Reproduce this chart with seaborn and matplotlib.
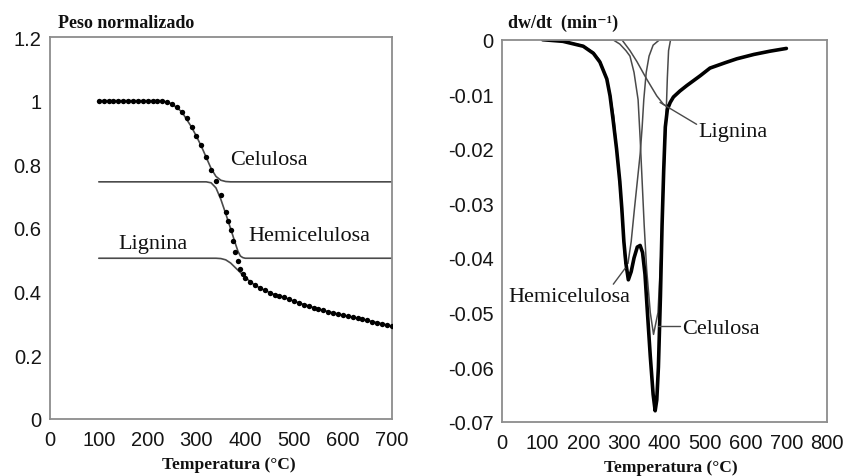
import matplotlib
matplotlib.use("Agg")
import matplotlib.pyplot as plt
from matplotlib.ticker import FixedLocator, MultipleLocator
import seaborn as sns

# ---------------- data: left panel (TG) ----------------
tg_T = [100, 110, 120, 130, 140, 150, 160, 170, 180, 190, 200, 210, 220, 230, 240, 250,
        260, 270, 280, 290, 300, 310, 320, 330, 340, 350, 360, 365, 370, 375, 380, 385,
        390, 395, 400, 410, 420, 430, 440, 450, 460, 470, 480, 490, 500, 510, 520, 530,
        540, 550, 560, 570, 580, 590, 600, 610, 620, 630, 640, 650, 660, 670, 680, 690, 700]
tg_total = [1.0, 1.0, 1.0, 1.0, 1.0, 1.0, 1.0, 1.0, 1.0, 1.0, 1.0, 1.0, 0.999, 0.998, 0.995, 0.99,
            0.98, 0.965, 0.945, 0.917, 0.888, 0.86, 0.822, 0.782, 0.748, 0.703, 0.650, 0.622, 0.595, 0.56, 0.525, 0.495,
            0.472, 0.456, 0.444, 0.430, 0.420, 0.412, 0.404, 0.397, 0.391, 0.386, 0.382, 0.376, 0.370, 0.364, 0.359, 0.355,
            0.350, 0.345, 0.341, 0.337, 0.333, 0.329, 0.326, 0.322, 0.319, 0.316, 0.313, 0.310, 0.306, 0.303, 0.299, 0.295, 0.292]

tg_cel_T = [100, 230, 250, 270, 290, 300, 310, 320, 330, 340, 350, 360, 370, 700]
tg_cel = [1.0, 1.0, 0.99, 0.965, 0.917, 0.888, 0.857, 0.822, 0.787, 0.762, 0.750, 0.746, 0.745, 0.745]

tg_hem_T = [100, 320, 330, 340, 350, 360, 370, 380, 385, 390, 395, 400, 700]
tg_hem = [0.745, 0.745, 0.742, 0.726, 0.690, 0.645, 0.598, 0.550, 0.527, 0.512, 0.507, 0.505, 0.505]

tg_lig_T = [100, 340, 350, 360, 370, 380, 390, 400, 410, 420, 440, 460, 480, 500, 550, 600, 650, 700]
tg_lig = [0.505, 0.505, 0.504, 0.500, 0.490, 0.475, 0.460, 0.445, 0.432, 0.420, 0.404, 0.391, 0.382, 0.370, 0.345, 0.326, 0.310, 0.292]

# ---------------- data: right panel (DTG) ----------------
dtg_T = [100, 150, 200, 225, 241, 258, 266, 274, 282, 290, 295, 300, 305, 311, 318, 325, 333, 340,
         346, 352, 358, 365, 372, 377, 381, 385, 390, 394, 398, 402, 407, 414, 422, 438, 455, 488,
         512, 550, 578, 620, 660, 700]
dtg_total = [0.0, -0.0003, -0.0012, -0.0025, -0.0041, -0.0072, -0.0103, -0.015, -0.020, -0.026, -0.031, -0.037, -0.041, -0.044, -0.0425, -0.040, -0.038, -0.0377,
             -0.039, -0.043, -0.050, -0.058, -0.065, -0.068, -0.066, -0.060, -0.047, -0.034, -0.024, -0.016, -0.0128, -0.0115, -0.0105, -0.0094, -0.0084, -0.0066,
             -0.0052, -0.0042, -0.0035, -0.0027, -0.0021, -0.0016]

dtg_hem_T = [100, 150, 200, 225, 240, 255, 265, 275, 285, 295, 303, 310, 318, 326, 333, 340, 345, 349, 355, 362, 372, 388, 700]
dtg_hem = [0.0, -0.0002, -0.0011, -0.0023, -0.0037, -0.0065, -0.0095, -0.014, -0.022, -0.032, -0.041, -0.041, -0.037, -0.031, -0.026, -0.021, -0.016, -0.011, -0.006, -0.003, -0.001, 0.0, 0.0]

dtg_cel_T = [100, 273, 290, 305, 315, 325, 335, 340, 345, 350, 356, 365, 373, 384, 392, 398, 403, 407, 410, 415, 700]
dtg_cel = [0.0, 0.0, -0.0008, -0.002, -0.003, -0.006, -0.011, -0.018, -0.026, -0.034, -0.042, -0.050, -0.054, -0.050, -0.038, -0.026, -0.016, -0.007, -0.002, 0.0, 0.0]

dtg_lig_T = [100, 295, 315, 332, 356, 381, 397, 405, 414, 422, 438, 455, 488, 512, 550, 578, 620, 660, 700]
dtg_lig = [0.0, 0.0, -0.002, -0.004, -0.0072, -0.0103, -0.0118, -0.0122, -0.0115, -0.0106, -0.0094, -0.0084, -0.0066, -0.0052, -0.0042, -0.0035, -0.0027, -0.0021, -0.0016]

# tick labels
left_yticks = [0, 0.2, 0.4, 0.6, 0.8, 1.0, 1.2]
left_ylabels = ["0", "0.2", "0.4", "0.6", "0.8", "1", "1.2"]
left_xticks = [0, 100, 200, 300, 400, 500, 600, 700]
right_yticks = [0, -0.01, -0.02, -0.03, -0.04, -0.05, -0.06, -0.07]
right_ylabels = ["0", "-0.01", "-0.02", "-0.03", "-0.04", "-0.05", "-0.06", "-0.07"]
right_xticks = [0, 100, 200, 300, 400, 500, 600, 700, 800]

# ---------------- styling ----------------
sns.set_style("white")
plt.rcParams["font.family"] = ["Liberation Sans", "DejaVu Sans"]

SERIF = ["Liberation Serif", "DejaVu Serif"]
SPINE = "#8c8c8c"
THIN = "#4a4a4a"
TXT = "#111111"

fig = plt.figure(figsize=(8.45, 4.77), dpi=100)
ax1 = fig.add_axes([50 / 845, 57 / 477, 341.7 / 845, 382 / 477])
ax2 = fig.add_axes([502 / 845, 54.3 / 477, 325 / 845, 382 / 477])


def style_axes(ax):
    for s in ax.spines.values():
        s.set_visible(True)
        s.set_color(SPINE)
        s.set_linewidth(1.3)
    ax.tick_params(axis="both", which="major", direction="out", length=4, width=1,
                   color=SPINE, labelsize=14.5, labelcolor="#151515")
    ax.tick_params(axis="x", which="major", pad=4)
    ax.tick_params(axis="y", which="major", pad=2)
    ax.tick_params(axis="both", which="minor", direction="in", length=2.5, width=0.8, color=SPINE)
    ax.tick_params(top=False, right=False, which="both")
    ax.grid(False)


# ---- left panel ----
sns.lineplot(x=tg_cel_T, y=tg_cel, ax=ax1, color=THIN, linewidth=1.2, estimator=None, sort=False)
sns.lineplot(x=tg_hem_T, y=tg_hem, ax=ax1, color=THIN, linewidth=1.2, estimator=None, sort=False)
sns.lineplot(x=tg_lig_T, y=tg_lig, ax=ax1, color=THIN, linewidth=1.2, estimator=None, sort=False)
sns.scatterplot(x=tg_T, y=tg_total, ax=ax1, color="black", s=15, linewidth=0, zorder=5)

ax1.set_xlim(0, 700)
ax1.set_ylim(0, 1.2)
ax1.xaxis.set_major_locator(FixedLocator(left_xticks))
ax1.set_xticklabels([str(v) for v in left_xticks])
ax1.yaxis.set_major_locator(FixedLocator(left_yticks))
ax1.set_yticklabels(left_ylabels)
ax1.xaxis.set_minor_locator(MultipleLocator(20))
ax1.yaxis.set_minor_locator(MultipleLocator(0.04))
style_axes(ax1)
ax1.set_xlabel("")
ax1.set_ylabel("")

ax1.text(370, 0.814, "Celulosa", family=SERIF, fontsize=16, va="center", ha="left", color=TXT)
ax1.text(407, 0.575, "Hemicelulosa", family=SERIF, fontsize=16, va="center", ha="left", color=TXT)
ax1.text(140, 0.55, "Lignina", family=SERIF, fontsize=16, va="center", ha="left", color=TXT)

# ---- right panel ----
sns.lineplot(x=dtg_hem_T, y=dtg_hem, ax=ax2, color=THIN, linewidth=1.1, estimator=None, sort=False)
sns.lineplot(x=dtg_cel_T, y=dtg_cel, ax=ax2, color=THIN, linewidth=1.1, estimator=None, sort=False)
sns.lineplot(x=dtg_lig_T, y=dtg_lig, ax=ax2, color=THIN, linewidth=1.1, estimator=None, sort=False)
sns.lineplot(x=dtg_T, y=dtg_total, ax=ax2, color="black", linewidth=2.6, estimator=None, sort=False)

ax2.set_xlim(0, 800)
ax2.set_ylim(-0.07, 0)
ax2.xaxis.set_major_locator(FixedLocator(right_xticks))
ax2.set_xticklabels([str(v) for v in right_xticks])
ax2.yaxis.set_major_locator(FixedLocator(right_yticks))
ax2.set_yticklabels(right_ylabels)
ax2.xaxis.set_minor_locator(MultipleLocator(20))
ax2.yaxis.set_minor_locator(MultipleLocator(0.002))
style_axes(ax2)
ax2.set_xlabel("")
ax2.set_ylabel("")

# annotations with leader lines
ax2.plot([389, 479], [-0.0115, -0.0155], color=THIN, linewidth=1.0)
ax2.text(483, -0.0169, "Lignina", family=SERIF, fontsize=16, va="center", ha="left", color=TXT)
ax2.plot([274, 303], [-0.0448, -0.0419], color=THIN, linewidth=1.0)
ax2.text(15, -0.0471, "Hemicelulosa", family=SERIF, fontsize=16, va="center", ha="left", color=TXT)
ax2.plot([385, 438], [-0.0524, -0.0524], color=THIN, linewidth=1.0)
ax2.text(443, -0.053, "Celulosa", family=SERIF, fontsize=16, va="center", ha="left", color=TXT)

# titles and axis labels
fig.text(58 / 845, 1 - 23 / 477, "Peso normalizado", family=SERIF, weight="bold",
         fontsize=13, ha="left", va="center", color=TXT)
fig.text(508 / 845, 1 - 23 / 477, "dw/dt  (min\u207b\u00b9)", family=SERIF, weight="bold",
         fontsize=13, ha="left", va="center", color=TXT)
fig.text(229 / 845, 1 - 465 / 477, "Temperatura (\u00b0C)", family=SERIF, weight="bold",
         fontsize=12.5, ha="center", va="center", color=TXT)
fig.text(671 / 845, 1 - 468 / 477, "Temperatura (\u00b0C)", family=SERIF, weight="bold",
         fontsize=12.5, ha="center", va="center", color=TXT)

fig.savefig("out.png", dpi=100, facecolor="white")
